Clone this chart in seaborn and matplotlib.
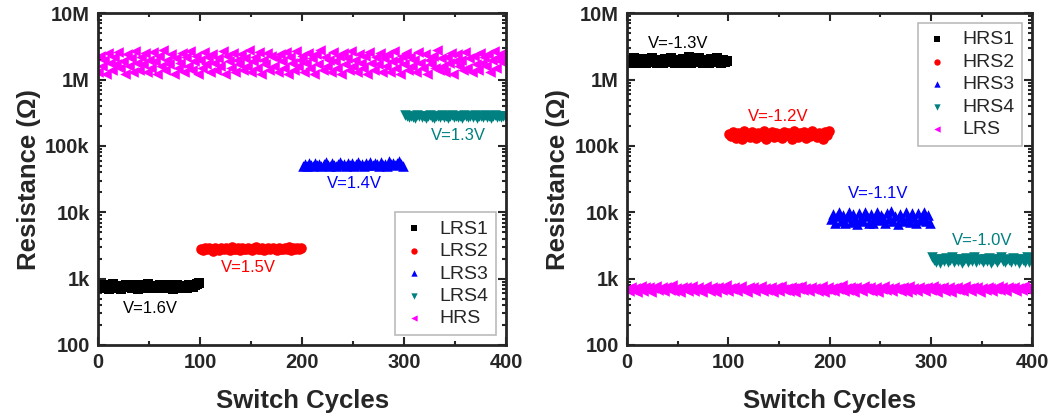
import numpy as np
import pandas as pd
import seaborn as sns
import matplotlib.pyplot as plt
from matplotlib.ticker import FixedLocator, FixedFormatter, LogLocator, MultipleLocator

# ---- data (every 2nd cycle) ----
# left panel: SET at different voltages
lrs1 = [760, 720, 800, 740, 780, 700, 760, 820, 730, 770, 750, 690, 780, 810, 740, 760, 720, 790, 750, 700,
        770, 800, 730, 760, 820, 740, 710, 780, 760, 730, 800, 750, 720, 770, 790, 740, 700, 760, 810, 750,
        730, 780, 760, 720, 800, 770, 740, 790, 830, 860]
lrs2_k = [2.8, 2.7, 2.9, 2.75, 2.85, 2.8, 2.65, 2.9, 2.8, 2.7, 2.85, 2.75, 2.9, 2.8, 2.7, 2.95, 2.8, 2.75, 2.85, 2.7,
          2.9, 2.8, 2.75, 2.85, 2.8, 2.7, 2.9, 2.95, 2.8, 2.75, 2.85, 2.7, 2.8, 2.9, 2.75, 2.85, 2.8, 2.7, 2.9, 2.8,
          2.75, 2.85, 2.8, 2.95, 2.7, 2.85, 2.8, 2.9, 2.75, 2.85]
lrs3_k = [50, 53, 49, 55, 52, 50, 56, 51, 54, 49, 53, 57, 51, 50, 55, 52, 49, 54, 58, 51,
          53, 50, 56, 52, 55, 49, 53, 57, 51, 54, 50, 56, 52, 58, 51, 55, 53, 49, 57, 52,
          54, 50, 59, 53, 56, 51, 55, 60, 53, 50]
lrs4_k = [290, 280, 270, 285, 275, 265, 290, 280, 270, 285, 260, 280, 290, 275, 265, 285, 280, 270, 290, 275,
          285, 265, 280, 290, 270, 285, 275, 280, 265, 290, 280, 270, 285, 275, 290, 265, 280, 285, 270, 290,
          275, 280, 265, 285, 290, 270, 280, 275, 285, 280]
hrs_M = [1.3, 2.3, 1.6, 2.0, 1.2, 2.5, 1.8, 1.4, 2.2, 1.7, 2.6, 1.5, 1.9, 1.2, 2.4, 1.6, 2.1, 1.3, 2.7, 1.8,
         1.4, 2.2, 1.7, 2.5, 1.3, 2.0, 1.5, 2.6, 1.9, 1.2, 2.3, 1.6, 2.8, 1.4, 2.0, 1.7, 2.4, 1.2, 2.1, 1.5,
         1.8, 2.5, 1.3, 2.2, 1.6, 2.7, 1.4, 1.9, 2.3, 1.2, 2.0, 1.5, 2.6, 1.7, 2.2, 1.3, 2.4, 1.8, 1.4, 2.1,
         1.6, 2.7, 1.2, 2.3, 1.9, 1.5, 2.5, 1.3, 2.0, 1.7, 2.4, 1.4, 2.1, 1.6, 2.8, 1.3, 1.9, 2.2, 1.5, 2.6,
         1.2, 2.0, 1.7, 2.5, 1.4, 2.3, 1.6, 2.1, 1.3, 2.4, 1.9, 1.5, 2.6, 1.2, 2.2, 1.8, 1.4, 2.7, 1.6, 2.0,
         2.3, 1.3, 1.8, 2.5, 1.5, 2.1, 1.2, 2.4, 1.7, 2.8, 1.4, 2.2, 1.6, 2.0, 1.3, 2.6, 1.9, 1.5, 2.3, 1.2,
         2.5, 1.7, 2.1, 1.4, 2.7, 1.6, 2.0, 1.3, 2.4, 1.8, 1.5, 2.3, 1.2, 2.6, 1.8, 1.4, 2.2, 1.7, 2.5, 1.3,
         2.1, 1.6, 2.4, 1.3, 1.9, 2.7, 1.5, 2.0, 1.2, 2.3, 1.7, 2.5, 1.4, 2.2, 1.6, 2.0, 1.3, 2.6, 1.8, 1.5,
         2.4, 1.2, 2.0, 1.7, 2.3, 1.5, 2.8, 1.4, 2.1, 1.6, 1.3, 2.2, 1.8, 2.5, 1.2, 1.9, 2.4, 1.6, 2.0, 1.4,
         2.6, 1.5, 2.1, 1.3, 2.3, 1.7, 1.4, 2.5, 1.8, 2.2, 1.6, 2.4, 1.3, 2.0, 2.7, 1.5, 2.2, 1.9, 2.5, 2.3]

# right panel: RESET at different voltages
hrs1_M = [1.9, 2.0, 1.8, 2.1, 1.85, 1.95, 1.75, 2.05, 1.9, 1.8, 2.0, 1.85, 2.1, 1.9, 1.75, 2.0, 1.95, 1.8, 2.05, 1.9,
          1.85, 2.1, 1.95, 1.8, 2.0, 1.9, 1.75, 2.05, 1.85, 1.95, 2.15, 1.8, 1.9, 2.0, 1.85, 2.1, 1.95, 1.75, 2.0, 1.9,
          1.8, 2.05, 1.95, 1.85, 2.1, 1.9, 1.8, 2.0, 1.85, 1.9]
hrs2_k = [150, 140, 160, 130, 155, 145, 125, 165, 140, 150, 135, 160, 145, 130, 155, 150, 140, 165, 125, 150,
          145, 160, 135, 155, 140, 150, 130, 160, 145, 155, 140, 125, 165, 150, 135, 155, 145, 160, 130, 150,
          140, 165, 145, 135, 155, 150, 125, 160, 145, 165]
hrs3_k = [8.0, 9.5, 7.0, 8.8, 10.0, 7.5, 9.0, 6.8, 8.5, 10.2, 7.2, 9.3, 8.0, 6.7, 9.8, 8.3, 7.4, 10.1, 8.7, 7.0,
          9.5, 6.9, 8.4, 10.0, 7.6, 9.1, 8.2, 6.8, 9.7, 7.9, 10.3, 7.3, 8.9, 6.7, 9.4, 8.1, 7.5, 10.0, 8.6, 7.1,
          9.6, 8.3, 6.9, 9.9, 7.7, 8.8, 10.1, 7.4, 9.2, 7.0]
hrs4_k = [2.1, 1.9, 1.8, 2.0, 1.7, 1.95, 1.85, 2.05, 1.75, 1.9, 2.1, 1.8, 1.95, 1.85, 2.0, 1.7, 1.9, 2.05, 1.8, 1.95,
          1.85, 2.1, 1.75, 1.9, 2.0, 1.8, 1.95, 1.85, 2.05, 1.7, 1.9, 2.0, 1.8, 1.95, 2.1, 1.85, 1.75, 2.0, 1.9, 1.8,
          2.05, 1.85, 1.95, 1.7, 2.0, 1.9, 1.8, 2.1, 1.75, 2.0]
lrs_r = [700, 650, 760, 680, 730, 620, 710, 780, 660, 740, 690, 750, 630, 720, 770, 670, 700, 740, 640, 760,
         710, 680, 790, 650, 730, 700, 620, 760, 690, 740, 660, 720, 770, 640, 700, 750, 680, 630, 730, 780,
         690, 650, 740, 710, 620, 760, 700, 670, 730, 790, 660, 720, 690, 750, 640, 710, 770, 680, 700, 630,
         740, 690, 760, 650, 720, 700, 780, 640, 730, 670, 710, 750, 620, 690, 740, 660, 770, 700, 680, 730,
         650, 760, 710, 630, 740, 690, 780, 670, 720, 700, 640, 750, 690, 730, 660, 710, 770, 620, 700, 740,
         680, 730, 650, 760, 700, 690, 790, 640, 720, 670, 740, 710, 630, 750, 690, 700, 660, 770, 720, 680,
         740, 650, 700, 760, 630, 710, 690, 780, 670, 730, 700, 640, 750, 690, 720, 660, 740, 710, 620, 770,
         680, 730, 700, 650, 760, 690, 720, 640, 740, 700, 670, 780, 710, 630, 730, 690, 750, 660, 700, 740,
         620, 720, 690, 760, 680, 710, 640, 770, 700, 730, 660, 740, 690, 750, 630, 720, 700, 680, 760, 710,
         650, 730, 690, 780, 670, 740, 700, 640, 750, 720, 690, 760, 660, 710, 730, 680, 770, 700, 740, 760]

left_labels = ['LRS1', 'LRS2', 'LRS3', 'LRS4', 'HRS']
right_labels = ['HRS1', 'HRS2', 'HRS3', 'HRS4', 'LRS']
left_volts = ['V=1.6V', 'V=1.5V', 'V=1.4V', 'V=1.3V']
right_volts = ['V=-1.3V', 'V=-1.2V', 'V=-1.1V', 'V=-1.0V']
ytick_vals = [1e2, 1e3, 1e4, 1e5, 1e6, 1e7]
ytick_labels = ['100', '1k', '10k', '100k', '1M', '10M']

colors = ['#000000', '#ff0000', '#0000ff', '#008080', '#ff00ff']
markers = ['s', 'o', '^', 'v', '<']

sns.set_style('ticks')
plt.rcParams['font.family'] = ['Liberation Sans', 'DejaVu Sans']


def seg_df(vals, scale, start, label):
    n = len(vals)
    return pd.DataFrame({'cycle': start + 1 + 2 * np.arange(n),
                         'R': np.array(vals, dtype=float) * scale,
                         'state': label})


def style_axes(ax):
    ax.set_yscale('log')
    ax.set_xlim(0, 400)
    ax.set_ylim(1e2, 1e7)
    ax.xaxis.set_major_locator(MultipleLocator(100))
    ax.xaxis.set_minor_locator(MultipleLocator(50))
    ax.yaxis.set_major_locator(FixedLocator(ytick_vals))
    ax.yaxis.set_major_formatter(FixedFormatter(ytick_labels))
    ax.yaxis.set_minor_locator(LogLocator(base=10, subs=np.arange(2, 10)))
    ax.tick_params(which='both', direction='in', top=True, right=True, width=1.5)
    ax.tick_params(which='major', length=6, labelsize=14.5, pad=6)
    ax.tick_params(which='minor', length=3)
    for lab in ax.get_xticklabels() + ax.get_yticklabels():
        lab.set_fontweight('bold')
    for sp in ax.spines.values():
        sp.set_linewidth(2)
        sp.set_visible(True)
    ax.set_xlabel('Switch Cycles', fontsize=18.5, fontweight='bold', labelpad=12)
    ax.set_ylabel('Resistance (Ω)', fontsize=18.5, fontweight='bold', labelpad=3)


fig = plt.figure(figsize=(10.63, 4.2), dpi=100)
axL = fig.add_axes([0.0922, 0.1786, 0.384, 0.790])
axR = fig.add_axes([0.590, 0.1786, 0.381, 0.790])

left_sets = [seg_df(lrs1, 1, 0, 'LRS1'), seg_df(lrs2_k, 1e3, 100, 'LRS2'),
             seg_df(lrs3_k, 1e3, 200, 'LRS3'), seg_df(lrs4_k, 1e3, 300, 'LRS4'),
             seg_df(hrs_M, 1e6, -1, 'HRS')]
right_sets = [seg_df(hrs1_M, 1e6, 0, 'HRS1'), seg_df(hrs2_k, 1e3, 100, 'HRS2'),
              seg_df(hrs3_k, 1e3, 200, 'HRS3'), seg_df(hrs4_k, 1e3, 300, 'HRS4'),
              seg_df(lrs_r, 1, -1, 'LRS')]

for ax, sets in [(axL, left_sets), (axR, right_sets)]:
    for df, c, m in zip(sets, colors, markers):
        sns.scatterplot(data=df, x='cycle', y='R', ax=ax, color=c, marker=m,
                        s=58, linewidth=0, label=df['state'].iloc[0])
    style_axes(ax)

# voltage annotations
left_pos = [(51, 360), (147, 1450), (251, 27500), (353, 145000)]
right_pos = [(50, 3.5e6), (149, 2.8e5), (248, 1.95e4), (351, 3.7e3)]
for ax, txts, pos in [(axL, left_volts, left_pos), (axR, right_volts, right_pos)]:
    for t, (x, y), c in zip(txts, pos, colors[:4]):
        ax.text(x, y, t, color=c, fontsize=12, ha='center', va='center')

leg_kw = dict(fontsize=14, frameon=True, fancybox=False, edgecolor='#aaaaaa',
              markerscale=0.6, labelspacing=0.25, handlelength=1.2,
              handletextpad=0.7, borderaxespad=0.5, borderpad=0.4)
legL = axL.legend(loc='lower right', **leg_kw)
legR = axR.legend(loc='upper right', **leg_kw)
for leg in (legL, legR):
    leg.get_frame().set_linewidth(1.2)

fig.savefig('out.png', dpi=100)
